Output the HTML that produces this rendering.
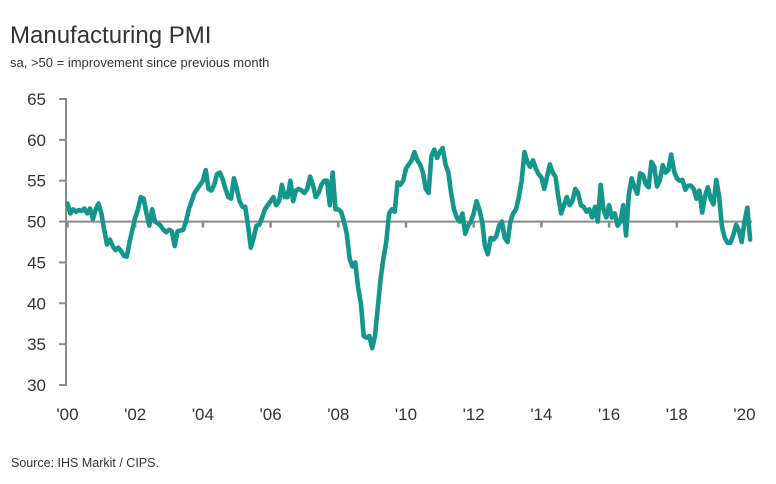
<!DOCTYPE html>
<html><head><meta charset="utf-8">
<style>
body{margin:0;background:#fff;font-family:"Liberation Sans",sans-serif;}
svg text{font-family:"Liberation Sans",sans-serif;}
</style></head>
<body>
<svg id="chart" width="776" height="479" xmlns="http://www.w3.org/2000/svg">
<text x="10" y="43" font-size="24" fill="#333">Manufacturing PMI</text>
<text x="10" y="67" font-size="13" fill="#333">sa, &gt;50 = improvement since previous month</text>
<text x="11" y="467" font-size="12.5" fill="#333">Source: IHS Markit / CIPS.</text>
<g id="axes"></g>
<g id="series"></g>
</svg>
<script>
const yTicks=[30,35,40,45,50,55,60,65];
const xTickLabels=["'00","'02","'04","'06","'08","'10","'12","'14","'16","'18","'20"];
const startYear=2000;
const pmi=[
52.2,51.0,51.5,51.2,51.4,51.3,51.6,51.0,51.6,50.3,51.5,52.2,
51.0,49.0,47.2,47.8,47.0,46.5,46.8,46.4,45.8,45.7,47.5,49.0,
50.5,51.5,53.0,52.8,51.0,49.5,51.5,50.0,49.8,49.5,49.0,48.7,
49.0,48.8,47.0,48.8,48.9,49.0,50.0,51.5,52.5,53.5,54.0,54.5,
55.0,56.3,54.0,53.8,54.5,55.8,56.0,55.2,54.0,53.0,52.8,55.3,
54.0,52.5,51.8,51.8,49.5,46.8,48.0,49.5,49.6,50.5,51.5,52.0,
52.5,53.0,52.0,52.5,54.5,53.0,53.0,55.0,52.5,53.8,54.0,53.8,
53.5,54.0,55.5,54.5,53.0,53.5,54.5,55.0,55.0,52.0,56.0,51.5,
51.5,51.2,50.0,48.5,45.5,44.5,45.0,42.0,40.0,36.0,35.8,36.0,
34.5,36.0,39.5,43.0,45.5,47.5,51.0,51.5,51.2,54.8,54.5,55.0,
56.5,57.0,57.5,58.5,57.5,57.0,56.0,54.0,53.5,58.0,58.8,57.8,
58.5,59.0,57.0,56.0,53.5,51.5,50.5,50.0,51.0,48.5,49.5,50.0,
51.0,52.5,51.5,50.0,47.0,46.0,48.0,47.8,48.2,49.5,50.0,48.0,
47.5,50.0,51.0,51.5,53.0,55.0,58.5,57.3,56.7,57.5,56.5,55.8,
55.4,54.0,55.5,57.0,56.0,55.5,53.0,51.0,52.0,53.0,52.0,52.5,
54.0,53.5,52.0,51.8,51.2,51.5,50.5,51.8,50.0,54.5,51.5,50.5,
52.0,50.5,51.0,49.5,50.0,52.0,48.3,53.3,55.3,54.2,53.4,55.9,
55.7,54.6,54.2,57.3,56.7,54.3,55.1,56.9,56.0,56.3,58.2,56.2,
55.3,55.0,55.1,53.9,54.4,54.4,54.0,52.8,53.8,51.1,53.1,54.2,
52.8,52.1,55.1,53.1,49.4,48.0,47.4,47.4,48.3,49.6,48.9,47.5,
50.0,51.7,47.8
];
const NS="http://www.w3.org/2000/svg";
const x0=67.5, pxPerYear=33.85, yTop=99, yBot=385, vMin=30, vMax=65;
function xs(i){return x0+pxPerYear*i/12;}
function xYear(y){return x0+pxPerYear*(y);}
function ys(v){return yBot-(v-vMin)/(vMax-vMin)*(yBot-yTop);}
function mk(tag,attrs,parent){const e=document.createElementNS(NS,tag);for(const k in attrs)e.setAttribute(k,attrs[k]);parent.appendChild(e);return e;}
const axes=document.getElementById('axes');
const ya=mk('line',{x1:66,x2:66,y1:yTop,y2:yBot,stroke:'#8a8a8a','stroke-width':2},axes);


yTicks.forEach(v=>{
  const t=mk('line',{x1:59,x2:67,y1:ys(v),y2:ys(v),stroke:'#8a8a8a','stroke-width':2},axes);
  
  
  const l=mk('text',{x:46,y:ys(v)+6,'text-anchor':'end','font-size':17,fill:'#333'},axes);
  l.textContent=v;
  
  
});
const xa=mk('line',{x1:66,x2:752,y1:ys(50),y2:ys(50),stroke:'#8a8a8a','stroke-width':2},axes);


xTickLabels.forEach((s,k)=>{
  const x=xYear(k*2);
  const t=mk('line',{x1:x,x2:x,y1:ys(50),y2:ys(50)+6,stroke:'#8a8a8a','stroke-width':2.5},axes);
  
  
  const l=mk('text',{x:x,y:420,'text-anchor':'middle','font-size':17,fill:'#333'},axes);
  l.textContent=s;
  
  
});
const series=document.getElementById('series');
const d=pmi.map((v,i)=>(i?'L':'M')+xs(i).toFixed(2)+','+ys(v).toFixed(2)).join(' ');
const p=mk('path',{d:d,fill:'none',stroke:'#15968d','stroke-width':4.6,'stroke-linejoin':'round','stroke-linecap':'round'},series);


</script>
</body></html>
